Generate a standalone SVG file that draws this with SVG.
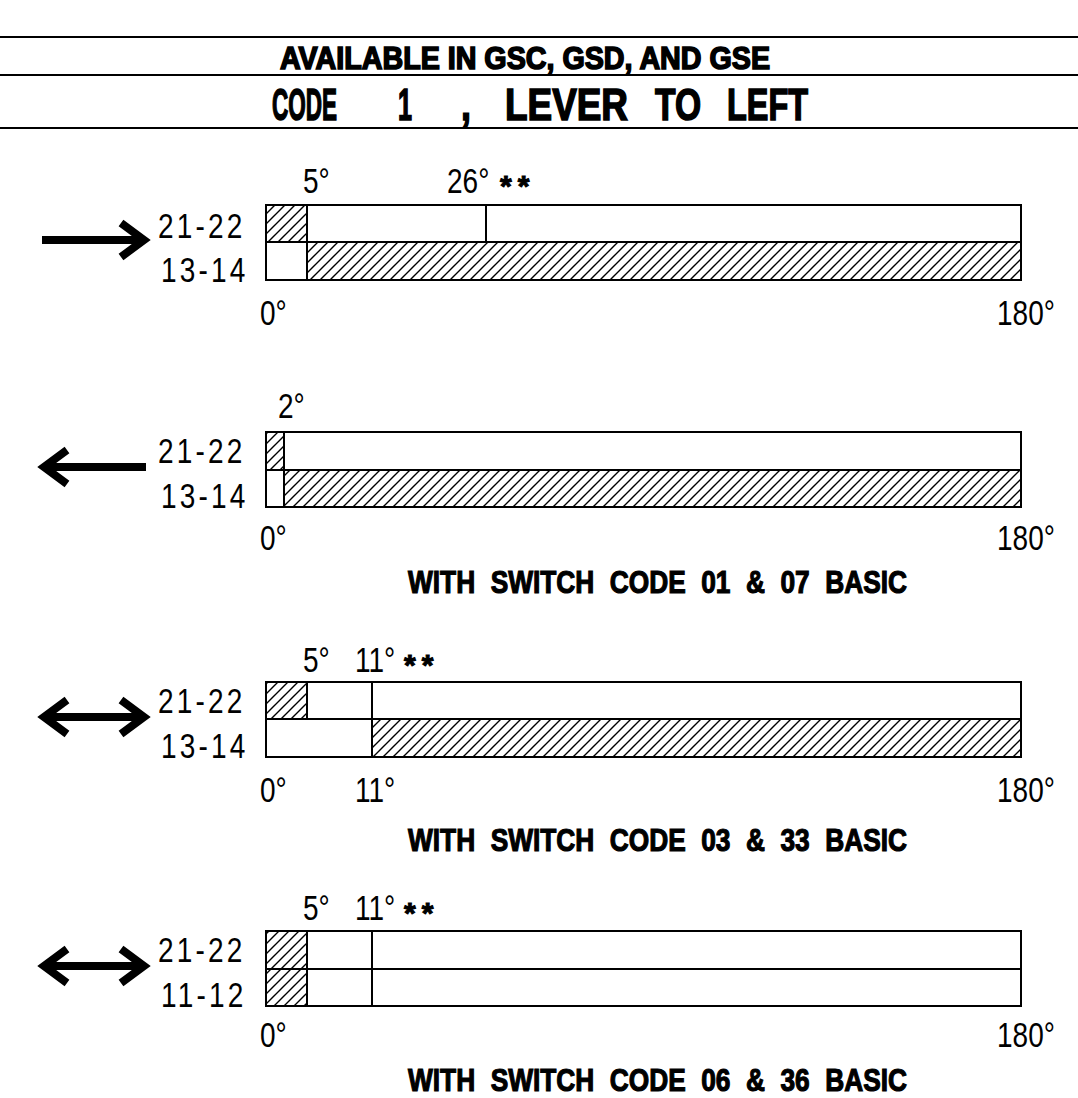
<svg xmlns="http://www.w3.org/2000/svg" width="1078" height="1098" viewBox="0 0 1078 1098">
<style>
.lbl{font-family:"Liberation Sans",Arial,sans-serif;font-size:35px;fill:#000}
.sp{letter-spacing:4px}
.ast{font-family:"Liberation Sans",Arial,sans-serif;font-size:30px;font-weight:bold;fill:#000;stroke:#000;stroke-width:1;letter-spacing:6px}
.bold{font-family:"Liberation Sans",Arial,sans-serif;font-weight:bold;fill:#000;stroke:#000;stroke-width:1.2;word-spacing:10px}
.hd{font-family:"Liberation Sans",Arial,sans-serif;font-weight:bold;fill:#000;stroke:#000;stroke-width:1.6}
.box{fill:none;stroke:#000;stroke-width:2}
.ln{stroke:#000;stroke-width:2;fill:none}
.arr{stroke:#000;stroke-width:8;fill:none;stroke-linecap:butt;stroke-linejoin:miter}
.hatch{fill:url(#h);stroke:none}
</style>
<defs>
<pattern id="h" patternUnits="userSpaceOnUse" width="10" height="10">
<path d="M0,10 L10,0 M-1,1 L1,-1 M9,11 L11,9" stroke="#000" stroke-width="1.4"/>
</pattern>
</defs>
<g id="header">
<line class="ln" x1="0" y1="37" x2="1078" y2="37"/>
<line class="ln" x1="0" y1="75" x2="1078" y2="75"/>
<line class="ln" x1="0" y1="128" x2="1078" y2="128"/>
<text class="hd" x="280" y="69" font-size="31" textLength="490" lengthAdjust="spacingAndGlyphs">AVAILABLE IN GSC, GSD, AND GSE</text>
<text class="hd" transform="translate(272,120) scale(0.5,1)" x="0" y="0" font-size="45" stroke-width="3">CODE</text>
<text class="hd" x="398" y="120" font-size="45" textLength="14" lengthAdjust="spacingAndGlyphs">1</text>
<text class="hd" x="461" y="120" font-size="45" textLength="10" lengthAdjust="spacingAndGlyphs">,</text>
<text class="hd" x="505" y="120" font-size="45" textLength="123" lengthAdjust="spacingAndGlyphs">LEVER</text>
<text class="hd" x="655" y="120" font-size="45" textLength="46" lengthAdjust="spacingAndGlyphs">TO</text>
<text class="hd" x="727" y="120" font-size="45" textLength="81" lengthAdjust="spacingAndGlyphs">LEFT</text>
</g>
<g id="diagram1">
<rect class="hatch" x="266" y="205" width="41" height="37"/>
<rect class="hatch" x="307" y="242" width="714" height="38"/>
<rect class="box" x="266" y="205" width="755" height="75"/>
<line class="ln" x1="266" y1="242" x2="1021" y2="242"/>
<line class="ln" x1="307" y1="205" x2="307" y2="280"/>
<line class="ln" x1="486" y1="205" x2="486" y2="242"/>
<path class="arr" d="M42,240 H144 M121,223 L144,240 L121,257"/>
<text class="lbl" transform="translate(303,193) scale(0.8,1)">5°</text>
<text class="lbl" transform="translate(447,193) scale(0.8,1)">26°</text>
<text class="ast" x="500" y="196">**</text>
<text class="lbl sp" transform="translate(158,238) scale(0.8,1)">21-22</text>
<text class="lbl sp" transform="translate(161,282) scale(0.8,1)">13-14</text>
<text class="lbl" transform="translate(260,325) scale(0.8,1)">0°</text>
<text class="lbl" transform="translate(997,325) scale(0.8,1)">180°</text>
</g>
<g id="diagram2">
<rect class="hatch" x="266" y="432" width="18" height="38"/>
<rect class="hatch" x="284" y="470" width="737" height="37"/>
<rect class="box" x="266" y="432" width="755" height="75"/>
<line class="ln" x1="266" y1="470" x2="1021" y2="470"/>
<line class="ln" x1="284" y1="432" x2="284" y2="507"/>
<path class="arr" d="M146,467 H44 M67,450 L44,467 L67,484"/>
<text class="lbl" transform="translate(278,418) scale(0.8,1)">2°</text>
<text class="lbl sp" transform="translate(158,463) scale(0.8,1)">21-22</text>
<text class="lbl sp" transform="translate(161,508) scale(0.8,1)">13-14</text>
<text class="lbl" transform="translate(260,550) scale(0.8,1)">0°</text>
<text class="lbl" transform="translate(997,550) scale(0.8,1)">180°</text>
<text class="bold" x="408" y="593" font-size="32" textLength="499" lengthAdjust="spacingAndGlyphs">WITH SWITCH CODE 01 &amp; 07 BASIC</text>
</g>
<g id="diagram3">
<rect class="hatch" x="266" y="682" width="41" height="37"/>
<rect class="hatch" x="372" y="719" width="649" height="38"/>
<rect class="box" x="266" y="682" width="755" height="75"/>
<line class="ln" x1="266" y1="719" x2="1021" y2="719"/>
<line class="ln" x1="307" y1="682" x2="307" y2="719"/>
<line class="ln" x1="372" y1="682" x2="372" y2="757"/>
<path class="arr" d="M44,717 H144 M67,700 L44,717 L67,734 M121,700 L144,717 L121,734"/>
<text class="lbl" transform="translate(303,672) scale(0.8,1)">5°</text>
<text class="lbl" transform="translate(355,672) scale(0.8,1)">11°</text>
<text class="ast" x="404" y="675">**</text>
<text class="lbl sp" transform="translate(158,713) scale(0.8,1)">21-22</text>
<text class="lbl sp" transform="translate(161,758) scale(0.8,1)">13-14</text>
<text class="lbl" transform="translate(260,802) scale(0.8,1)">0°</text>
<text class="lbl" transform="translate(355,802) scale(0.8,1)">11°</text>
<text class="lbl" transform="translate(997,802) scale(0.8,1)">180°</text>
<text class="bold" x="408" y="851" font-size="32" textLength="499" lengthAdjust="spacingAndGlyphs">WITH SWITCH CODE 03 &amp; 33 BASIC</text>
</g>
<g id="diagram4">
<rect class="hatch" x="266" y="931" width="41" height="75"/>
<rect class="box" x="266" y="931" width="755" height="75"/>
<line class="ln" x1="266" y1="969" x2="1021" y2="969"/>
<line class="ln" x1="307" y1="931" x2="307" y2="1006"/>
<line class="ln" x1="372" y1="931" x2="372" y2="1006"/>
<path class="arr" d="M44,966 H144 M67,949 L44,966 L67,983 M121,949 L144,966 L121,983"/>
<text class="lbl" transform="translate(303,920) scale(0.8,1)">5°</text>
<text class="lbl" transform="translate(355,920) scale(0.8,1)">11°</text>
<text class="ast" x="404" y="923">**</text>
<text class="lbl sp" transform="translate(158,962) scale(0.8,1)">21-22</text>
<text class="lbl sp" transform="translate(161,1007) scale(0.8,1)">11-12</text>
<text class="lbl" transform="translate(260,1047) scale(0.8,1)">0°</text>
<text class="lbl" transform="translate(997,1047) scale(0.8,1)">180°</text>
<text class="bold" x="408" y="1091" font-size="32" textLength="499" lengthAdjust="spacingAndGlyphs">WITH SWITCH CODE 06 &amp; 36 BASIC</text>
</g>
</svg>
